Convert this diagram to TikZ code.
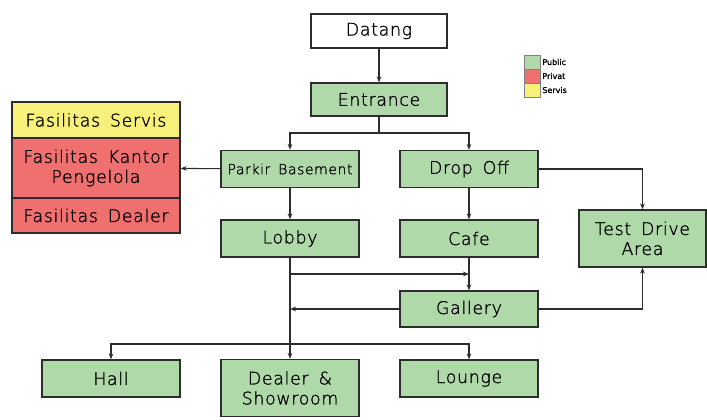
\documentclass[tikz,border=0pt]{standalone}
\usepackage{fontspec}
\setmainfont{DejaVu Sans ExtraLight}[LetterSpace=4,WordSpace=1.6,FakeBold=1.2]
\newfontfamily\legfont{DejaVu Sans}[FakeBold=1.5]
\usetikzlibrary{arrows.meta,calc}
\definecolor{pubc}{RGB}{176,217,170}
\definecolor{prvc}{RGB}{240,112,112}
\definecolor{srvc}{RGB}{247,240,122}
\definecolor{edgec}{RGB}{45,45,45}
\begin{document}
\begin{tikzpicture}[x=0.75pt,y=-0.75pt,
  boxbase/.style={draw=edgec,line width=0.95pt,inner sep=1pt,align=center,font=\fontsize{13}{15}\selectfont,text=black},
  pub/.style={boxbase,fill=pubc},
  prv/.style={boxbase,fill=prvc},
  srv/.style={boxbase,fill=srvc},
  wht/.style={boxbase,fill=white},
  sz/.style 2 args={minimum width=#1*0.75pt,minimum height=#2*0.75pt},
  conn/.style={draw=edgec,line width=0.8pt},
  arr/.style={conn,-{Stealth[length=4.5pt,width=3.5pt]}},
  legsq/.style={draw=edgec!60,line width=0.4pt,minimum width=12pt,minimum height=10.5pt,inner sep=0pt},
  legtx/.style={font=\legfont\fontsize{6}{7}\selectfont,anchor=west,inner sep=1pt}
]
\useasboundingbox (0,0) rectangle (707,419);
% boxes
\node[wht,sz={136}{34}] (datang) at (379,31) {Datang};
\node[pub,sz={136}{33}] (entrance) at (379,99.5) {Entrance};
\node[pub,sz={138}{37},font=\fontsize{10.5}{12}\selectfont] (parkir) at (290,169) {Parkir Basement};
\node[pub,sz={138}{37}] (dropoff) at (469,169) {Drop Off};
\node[pub,sz={138}{37}] (lobby) at (290,238.5) {Lobby};
\node[pub,sz={138}{37}] (cafe) at (469,238.5) {Cafe};
\node[pub,sz={138}{36}] (gallery) at (469,309) {Gallery};
\node[pub,sz={127}{57}] (test) at (642.5,238.5) {Test Drive\\Area};
\node[pub,sz={138}{37}] (hall) at (111,378.5) {Hall};
\node[pub,sz={138}{57}] (dealer) at (290,388) {Dealer \&\\Showroom};
\node[pub,sz={138}{37}] (lounge) at (469,378.5) {Lounge};
% left stack
\node[srv,sz={168}{36}] (servis) at (96,120) {Fasilitas Servis};
\node[prv,sz={168}{60}] (kantor) at (96,168) {Fasilitas Kantor\\Pengelola};
\node[prv,sz={168}{35}] (fdealer) at (96,215.5) {Fasilitas Dealer};
% legend
\node[legsq,fill=pubc] (lpub) at (532.5,62) {};
\node[legsq,fill=prvc] (lprv) at (532.5,76) {};
\node[legsq,fill=srvc] (lsrv) at (532.5,90) {};
\node[legtx] (tpub) at (lpub.east) {Public};
\node[legtx] (tprv) at (lprv.east) {Privat};
\node[legtx] (tsrv) at (lsrv.east) {Servis};
% junctions
\coordinate (s1) at (379,133);
\coordinate (j1) at (290,274);
\coordinate (j2) at (290,309);
\coordinate (j3) at (290,344);
% connectors
\draw[arr] (datang) -- (entrance);
\draw[conn] (entrance) -- (s1);
\draw[arr] (s1) -| (parkir);
\draw[arr] (s1) -| (dropoff);
\draw[arr] (parkir) -- (kantor);
\draw[arr] (parkir) -- (lobby);
\draw[arr] (dropoff) -- (cafe);
\draw[arr] (cafe) -- (gallery);
\draw[arr] (dropoff.east) -| (test.north);
\draw[arr] (gallery.east) -| (test.south);
\draw[conn] (lobby.south) -- (j3);
\draw[arr] (j1) -- (j1 -| cafe);
\draw[arr] (gallery.west) -- (j2);
\draw[arr] (j3) -| (hall);
\draw[arr] (j3) -| (lounge);
\draw[arr] (j3) -- (dealer);
\end{tikzpicture}
\end{document}
